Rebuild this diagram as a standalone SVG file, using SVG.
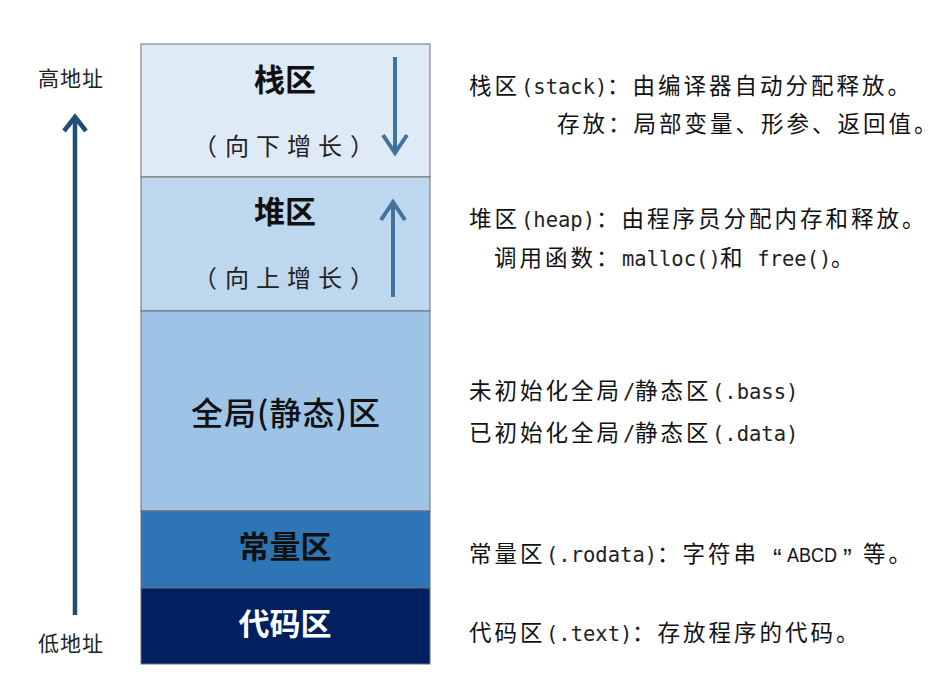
<svg xmlns="http://www.w3.org/2000/svg" width="949" height="682" viewBox="0 0 949 682">
<style>
  .cjk { font-family: "Noto Sans CJK SC", "Noto Sans", sans-serif; fill: #111; }
  .title { font-size: 31px; font-weight: bold; text-anchor: middle; }
  .sub { font-size: 24px; fill: #222; }
  .desc { font-size: 22.5px; letter-spacing: 3px; }
  .mono { font-family: "DejaVu Sans Mono", "Liberation Mono", monospace; font-size: 20.5px; letter-spacing: 0; fill: #222; }
  .lat { font-family: "Liberation Sans", Arial, sans-serif; font-size: 20px; letter-spacing: 0; }
  .quote { font-family: "Liberation Sans", Arial, sans-serif; font-size: 26px; letter-spacing: 0; }
  .addr { font-size: 21px; letter-spacing: 1px; fill: #222; }
  .box { stroke: #6f6f6f; stroke-width: 1; }
  .arr-dark { fill: none; stroke: #1F4E79; stroke-width: 4.5; }
  .arr-steel { fill: none; stroke: #41719C; stroke-width: 4; }
</style>
<defs>
  <marker id="head-dark" markerUnits="userSpaceOnUse" markerWidth="26" markerHeight="28" viewBox="0 0 26 28" refX="20" refY="14" orient="auto">
    <path d="M6,3 L20,14 L6,25" fill="none" stroke="#1F4E79" stroke-width="4.5" stroke-linejoin="miter"/>
  </marker>
  <marker id="head-steel" markerUnits="userSpaceOnUse" markerWidth="28" markerHeight="30" viewBox="0 0 28 30" refX="22" refY="15" orient="auto">
    <path d="M4,3 L22,15 L4,27" fill="none" stroke="#41719C" stroke-width="4" stroke-linejoin="miter"/>
  </marker>
</defs>
<rect width="949" height="682" fill="#ffffff"/>

<g id="stack">
  <rect class="box" x="141" y="44" width="289" height="133" fill="#DEEBF7"/>
  <text class="cjk title" x="285" y="91">栈区</text>
  <text class="cjk sub" x="193 225 256 287 318 350" y="155">（向下增长）</text>
</g>
<g id="heap">
  <rect class="box" x="141" y="177" width="289" height="134" fill="#BDD7EE"/>
  <text class="cjk title" x="285" y="223">堆区</text>
  <text class="cjk sub" x="193 225 256 287 318 350" y="287">（向上增长）</text>
</g>
<g id="global">
  <rect class="box" x="141" y="311" width="289" height="200" fill="#9DC3E6"/>
  <text class="cjk title" x="286" y="425" style="font-weight:500;font-size:32px;letter-spacing:1px">全局(静态)区</text>
</g>
<g id="const">
  <rect class="box" x="141" y="511" width="289" height="77" fill="#2E75B6"/>
  <text class="cjk title" x="285" y="558">常量区</text>
</g>
<g id="code">
  <rect class="box" x="141" y="588" width="289" height="76" fill="#002060"/>
  <text class="cjk title" x="285" y="635" style="fill:#ffffff">代码区</text>
</g>

<g id="addr-labels">
  <text class="cjk addr" x="38" y="86">高地址</text>
  <text class="cjk addr" x="38" y="651">低地址</text>
</g>

<g id="connectors">
  <line class="arr-dark" x1="75" y1="615" x2="75" y2="117" marker-end="url(#head-dark)"/>
  <line class="arr-steel" x1="395" y1="57" x2="395" y2="153" marker-end="url(#head-steel)"/>
  <line class="arr-steel" x1="393" y1="297" x2="393" y2="202" marker-end="url(#head-steel)"/>
</g>

<g id="desc-stack">
  <text class="cjk desc" y="94"><tspan x="469">栈区</tspan><tspan class="mono" x="521">(stack)</tspan><tspan x="607">：由编译器自动分配释放。</tspan></text>
  <text class="cjk desc" x="557" y="132">存放：局部变量、形参、返回值。</text>
</g>
<g id="desc-heap">
  <text class="cjk desc" y="227"><tspan x="469">堆区</tspan><tspan class="mono" x="521">(heap)</tspan><tspan x="596">：由程序员分配内存和释放。</tspan></text>
  <text class="cjk desc" y="266"><tspan x="494">调用函数：</tspan><tspan class="mono" x="622">malloc()</tspan><tspan x="720">和</tspan><tspan class="mono" x="745"> free()</tspan><tspan x="831">。</tspan></text>
</g>
<g id="desc-global">
  <text class="cjk desc" y="399"><tspan x="469">未初始化全局</tspan><tspan class="mono" x="623">/</tspan><tspan x="635">静态区</tspan><tspan class="mono" x="712">(.bass)</tspan></text>
  <text class="cjk desc" y="441"><tspan x="469">已初始化全局</tspan><tspan class="mono" x="623">/</tspan><tspan x="635">静态区</tspan><tspan class="mono" x="712">(.data)</tspan></text>
</g>
<g id="desc-const">
  <text class="cjk desc" y="562"><tspan x="469">常量区</tspan><tspan class="mono" x="546">(.rodata)</tspan><tspan x="657">：字符串</tspan><tspan class="quote" x="773" y="567">“</tspan><tspan class="lat" x="787" y="562" textLength="50" lengthAdjust="spacingAndGlyphs">ABCD</tspan><tspan class="quote" x="843" y="567">”</tspan><tspan x="863" y="562">等。</tspan></text>
</g>
<g id="desc-code">
  <text class="cjk desc" y="641"><tspan x="469">代码区</tspan><tspan class="mono" x="546">(.text)</tspan><tspan x="632">：存放程序的代码。</tspan></text>
</g>
</svg>
